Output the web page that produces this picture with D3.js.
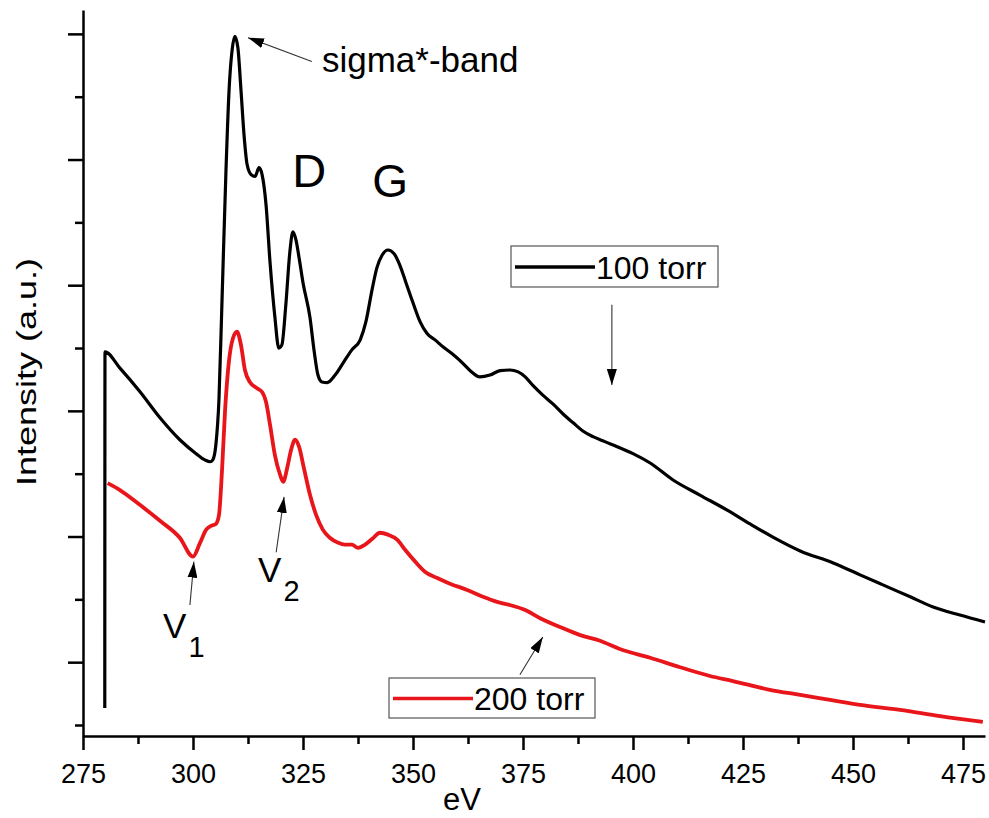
<!DOCTYPE html>
<html>
<head>
<meta charset="utf-8">
<script src="https://cdn.jsdelivr.net/npm/d3@7"></script>
<style>
  body { margin: 0; background: #fff; }
  text { font-family: "Liberation Sans", Arial, sans-serif; fill: #000; }
</style>
</head>
<body>
<div id="chart"></div>
<script>
/////////////////////////////////////////////////
/* Data (eV, intensity a.u.) */
/////////////////////////////////////////////////
const ev100 = [279.95, 280.0, 283.4, 288.0, 292.5, 297.0, 300.5, 302.7, 303.9, 304.5, 305.2, 305.9, 306.6, 307.5, 308.2, 308.9,
  309.5, 310.2, 310.9, 311.6, 312.3, 313.2, 314.1, 315.0, 315.7, 316.6, 317.5, 318.6, 319.5, 320.2, 321.1, 322.0,
  322.7, 323.4, 324.1, 325.0, 326.6, 327.5, 328.4, 329.3, 330.5, 332.3, 334.1, 336.1, 338.0, 339.3, 340.7, 341.8,
  343.0, 344.3, 345.7, 347.0, 348.4, 350.0, 351.6, 353.2, 355.0, 356.8, 358.9, 360.7, 363.0, 365.2, 367.5, 369.8,
  372.0, 373.9, 375.5, 377.3, 379.5, 381.8, 384.1, 386.4, 388.6, 390.9, 393.6, 396.4, 400.0, 403.9, 409.1, 415.2,
  421.4, 426.6, 431.8, 438.0, 445.5, 451.6, 456.8, 463.0, 468.2, 474.3, 480.0];
const int100 = [0.27, 5.94, 5.68, 5.30, 4.89, 4.54, 4.33, 4.22, 4.19, 4.22, 4.46, 5.18, 6.77, 8.84, 10.11, 10.75,
  10.96, 10.78, 10.11, 9.39, 8.92, 8.76, 8.73, 8.87, 8.76, 8.28, 7.37, 6.50, 6.00, 6.05, 6.69, 7.52,
  7.85, 7.72, 7.44, 7.04, 6.48, 5.97, 5.57, 5.46, 5.45, 5.57, 5.76, 5.97, 6.13, 6.42, 6.93, 7.28,
  7.48, 7.56, 7.50, 7.32, 7.04, 6.72, 6.42, 6.23, 6.13, 6.02, 5.91, 5.80, 5.64, 5.54, 5.57, 5.64,
  5.65, 5.62, 5.54, 5.40, 5.25, 5.11, 4.95, 4.81, 4.68, 4.59, 4.51, 4.43, 4.32, 4.17, 3.90, 3.66,
  3.42, 3.20, 2.99, 2.77, 2.58, 2.39, 2.23, 2.04, 1.88, 1.75, 1.64];

const ev200 = [280.6, 283.4, 288.0, 292.5, 297.0, 300.0, 301.6, 303.0, 304.1, 305.2, 305.9, 306.6, 307.3, 308.2, 309.1, 310.0,
  310.9, 311.8, 313.0, 314.3, 315.7, 316.6, 317.5, 318.6, 319.8, 320.5, 321.4, 322.3, 323.2, 324.1, 325.2, 326.6,
  328.0, 329.5, 331.1, 333.0, 334.5, 336.1, 337.5, 339.1, 340.7, 342.5, 344.3, 346.4, 348.2, 350.5, 352.7, 355.5,
  358.4, 362.3, 365.9, 369.1, 372.0, 375.5, 378.9, 383.4, 388.0, 392.5, 397.0, 403.9, 410.7, 417.5, 422.7, 431.1,
  438.0, 444.8, 451.6, 460.7, 469.8, 479.5];
const int200 = [3.85, 3.74, 3.50, 3.25, 2.98, 2.68, 2.90, 3.11, 3.17, 3.20, 3.34, 4.06, 5.02, 5.81, 6.16, 6.26,
  6.05, 5.65, 5.45, 5.37, 5.30, 5.14, 4.78, 4.30, 3.98, 3.87, 4.09, 4.38, 4.54, 4.43, 4.09, 3.66,
  3.34, 3.11, 2.98, 2.90, 2.87, 2.87, 2.82, 2.87, 2.96, 3.06, 3.03, 2.95, 2.79, 2.60, 2.44, 2.34,
  2.25, 2.15, 2.04, 1.96, 1.91, 1.83, 1.70, 1.56, 1.43, 1.34, 1.21, 1.07, 0.92, 0.78, 0.70, 0.56,
  0.48, 0.40, 0.32, 0.24, 0.14, 0.05];

const xMajor = [275, 300, 325, 350, 375, 400, 425, 450, 475];
const xMinor = [287.5, 312.5, 337.5, 362.5, 387.5, 412.5, 437.5, 462.5];
const yMajor = [1, 3, 5, 7, 9, 11];
const yMinor = [0, 2, 4, 6, 8, 10];

const seriesNames = ["100 torr", "200 torr"];
const seriesColors = ["#000000", "#e8151b"];
const seriesWidths = [3.2, 3.8];

// annotation arrows: [from eV, from I, to eV, to I]
const arrows = [
  [327.0, 10.56, 312.5, 10.94],  // sigma*-band
  [395.2, 6.69, 395.2, 5.41],    // 100 torr
  [374.3, 0.80, 379.5, 1.40],    // 200 torr
  [299.3, 1.91, 300.2, 2.60],    // V1
  [318.9, 2.75, 320.7, 3.63]     // V2
];

/////////////////////////////////////////////////
/* Setup */
/////////////////////////////////////////////////
const W = 989, H = 818;
const svg = d3.select("#chart").append("svg")
  .attr("width", W).attr("height", H);

const x = d3.scaleLinear().domain([275, 480]).range([83, 985]);
const y = d3.scaleLinear().domain([-0.175, 11.38]).range([736, 10]);

// arrow head
svg.append("defs").append("marker")
  .attr("id", "head")
  .attr("markerUnits", "userSpaceOnUse")
  .attr("viewBox", "0 0 16 10")
  .attr("refX", 16).attr("refY", 5)
  .attr("markerWidth", 16).attr("markerHeight", 10)
  .attr("orient", "auto")
  .append("path").attr("d", "M0,0 L16,5 L0,10 Z").attr("fill", "#000");

/////////////////////////////////////////////////
/* Axes */
/////////////////////////////////////////////////
const xAxisG = svg.append("g").attr("transform", "translate(0,736)");
xAxisG.call(d3.axisBottom(x).tickValues(xMajor).tickSize(14).tickSizeOuter(0).tickPadding(14).tickFormat(d3.format("d")));
xAxisG.append("g").call(d3.axisBottom(x).tickValues(xMinor).tickSize(8).tickFormat(""))
  .select(".domain").remove();

const yAxisG = svg.append("g").attr("transform", "translate(83,0)");
yAxisG.call(d3.axisLeft(y).tickValues(yMajor).tickSize(15).tickSizeOuter(0).tickFormat(""));
yAxisG.append("g").call(d3.axisLeft(y).tickValues(yMinor).tickSize(8).tickFormat(""))
  .select(".domain").remove();

svg.selectAll(".domain").attr("stroke", "#000").attr("stroke-width", 2.5);
svg.selectAll(".tick line").attr("stroke", "#000").attr("stroke-width", 2.5);
xAxisG.selectAll(".tick text")
  .attr("font-size", 27)
  .attr("font-family", "Liberation Sans, Arial, sans-serif")
  .attr("fill", "#000");

// axis titles
svg.append("text")
  .attr("x", 462).attr("y", 810)
  .attr("text-anchor", "middle")
  .attr("font-size", 31)
  .text("eV");

svg.append("text")
  .attr("transform", "translate(36,372) rotate(-90)")
  .attr("text-anchor", "middle")
  .attr("font-size", 27)
  .attr("textLength", 228)
  .attr("lengthAdjust", "spacingAndGlyphs")
  .text("Intensity (a.u.)");

/////////////////////////////////////////////////
/* Curves */
/////////////////////////////////////////////////
const line = d3.line()
  .x(d => x(d[0]))
  .y(d => y(d[1]))
  .curve(d3.curveMonotoneX);

const series = [d3.zip(ev100, int100), d3.zip(ev200, int200)];

svg.selectAll(".curve")
  .data(series)
  .enter().append("path")
  .attr("class", "curve")
  .attr("d", line)
  .attr("fill", "none")
  .attr("stroke", (d, i) => seriesColors[i])
  .attr("stroke-width", (d, i) => seriesWidths[i])
  .attr("stroke-linejoin", "round");

/////////////////////////////////////////////////
/* Annotations */
/////////////////////////////////////////////////
svg.selectAll(".arrow")
  .data(arrows)
  .enter().append("line")
  .attr("class", "arrow")
  .attr("x1", d => x(d[0])).attr("y1", d => y(d[1]))
  .attr("x2", d => x(d[2])).attr("y2", d => y(d[3]))
  .attr("stroke", "#333")
  .attr("stroke-width", 1.1)
  .attr("marker-end", "url(#head)");

svg.append("text")
  .attr("x", x(329.3)).attr("y", y(10.40))
  .attr("font-size", 35)
  .text("sigma*-band");

svg.append("text")
  .attr("x", x(326.4)).attr("y", y(8.57))
  .attr("text-anchor", "middle")
  .attr("font-size", 47)
  .text("D");

svg.append("text")
  .attr("x", x(344.8)).attr("y", y(8.41))
  .attr("text-anchor", "middle")
  .attr("font-size", 46)
  .text("G");

// V1, V2 with subscripts
const vLabels = [
  {ev: 293.2, val: 1.39, sub: "1"},
  {ev: 314.8, val: 2.28, sub: "2"}
];
vLabels.forEach(v => {
  const t = svg.append("text")
    .attr("x", x(v.ev)).attr("y", y(v.val))
    .attr("font-size", 35);
  t.append("tspan").text("V");
  t.append("tspan").attr("dx", 2).attr("dy", 19).attr("font-size", 29).text(v.sub);
});

/////////////////////////////////////////////////
/* Legends */
/////////////////////////////////////////////////
const legends = [
  {x: 511, y: 246, w: 207, h: 41},
  {x: 389, y: 678, w: 206, h: 40}
];
legends.forEach((lg, i) => {
  const g = svg.append("g").attr("transform", `translate(${lg.x},${lg.y})`);
  g.append("rect")
    .attr("width", lg.w).attr("height", lg.h)
    .attr("fill", "#fff")
    .attr("stroke", "#555").attr("stroke-width", 1.2);
  g.append("line")
    .attr("x1", 4).attr("x2", 84)
    .attr("y1", lg.h / 2 + 0.5).attr("y2", lg.h / 2 + 0.5)
    .attr("stroke", seriesColors[i]).attr("stroke-width", 3.5);
  g.append("text")
    .attr("x", 85).attr("y", lg.h / 2 + 12)
    .attr("font-size", 32)
    .text(seriesNames[i]);
});
</script>
</body>
</html>
